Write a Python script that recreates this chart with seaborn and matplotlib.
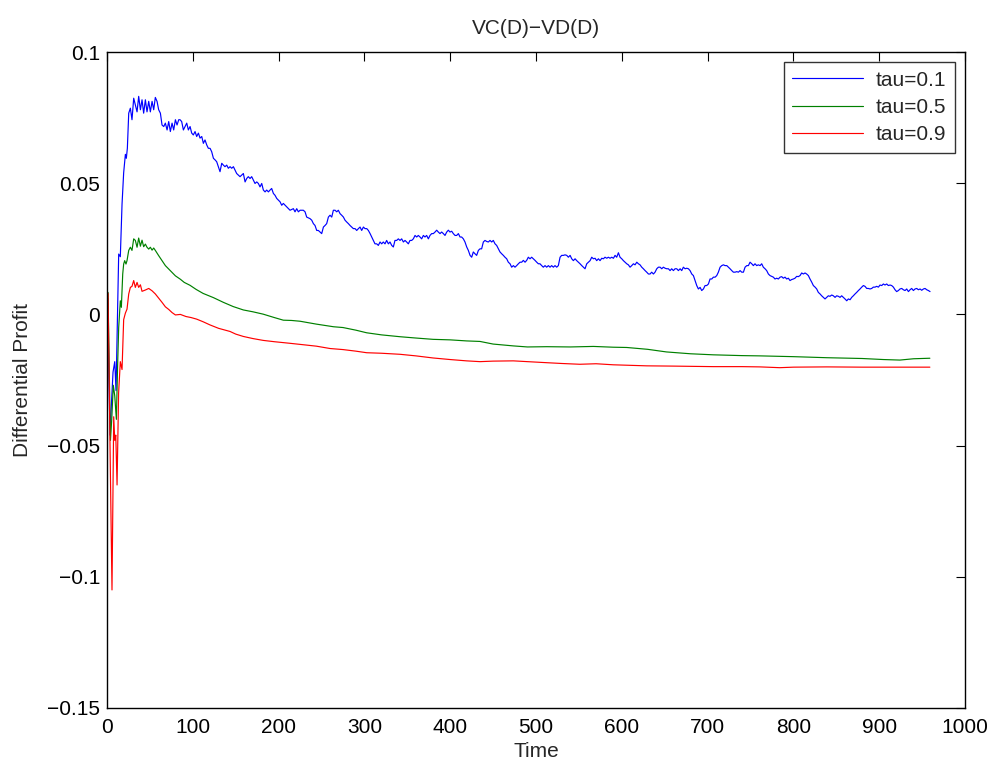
import matplotlib
matplotlib.use("Agg")
import matplotlib.pyplot as plt
import pandas as pd
import seaborn as sns

# Points: (time, differential profit)
points_01 = [
    (1, 0.006), (2, -0.020), (3.5, -0.046), (5, -0.035), (7, -0.022), (9, -0.018), (10.5, -0.029),
    (11.5, -0.012), (12.8, 0.008), (13.6, 0.023), (15.5, 0.022), (17.5, 0.042), (19.4, 0.054), (21.4, 0.061),
    (22.5, 0.0595), (23.7, 0.0633), (25.3, 0.0767), (27.2, 0.0786), (29.1, 0.0742), (31.1, 0.0824),
    (33.0, 0.0799), (35.0, 0.0772), (36.9, 0.0831), (38.9, 0.0780), (40.8, 0.0818), (42.7, 0.0767),
    (44.7, 0.0818), (46.6, 0.0772), (48.6, 0.0812), (50.5, 0.0772), (52.5, 0.0812), (54.4, 0.0780),
    (56.3, 0.0827), (58.3, 0.0812), (60.2, 0.0780), (62.2, 0.0767), (64.1, 0.0722), (66.1, 0.0716),
    (68.0, 0.0729), (70.0, 0.0703), (71.9, 0.0735), (73.8, 0.0697), (75.8, 0.0729), (77.7, 0.0703),
    (79.7, 0.0742), (81.6, 0.0722), (83.6, 0.0742),
    (85.1, 0.0742), (87.0, 0.0735), (89.0, 0.0703), (90.9, 0.0716), (92.9, 0.0729), (94.8, 0.0703),
    (96.8, 0.0716), (98.7, 0.0691), (100.6, 0.0684), (102.6, 0.0697), (104.5, 0.0678), (106.5, 0.0691),
    (108.4, 0.0672), (110.4, 0.0678), (112.3, 0.0652), (114.2, 0.0665), (116.2, 0.0646), (118.1, 0.0633),
    (120.1, 0.0633), (122.0, 0.0620), (124.0, 0.0595), (125.9, 0.0589), (127.8, 0.0582), (129.8, 0.0563),
    (131.7, 0.0544), (133.7, 0.0576), (135.6, 0.0569), (137.5, 0.0563), (139.5, 0.0569), (141.4, 0.0557),
    (143.4, 0.0563), (145.3, 0.0557), (147.3, 0.0563), (149.2, 0.0550), (151.1, 0.0537), (153.1, 0.0531),
    (155.0, 0.0525), (157.0, 0.0531), (158.9, 0.0537), (160.9, 0.0505), (162.8, 0.0518), (164.7, 0.0525),
    (166.7, 0.0518), (168.6, 0.0525), (170.6, 0.0512), (172.5, 0.0499), (174.5, 0.0505), (176.4, 0.0499),
    (178.3, 0.0486), (180.3, 0.0499), (182.2, 0.0474), (184.2, 0.0467), (186.1, 0.0474), (188.1, 0.0467),
    (190.0, 0.0474), (191.9, 0.0480), (193.9, 0.0461), (195.8, 0.0454), (197.8, 0.0442), (201.7, 0.0429),
    (203.6, 0.0416), (205.5, 0.0423), (209.4, 0.0410), (213.3, 0.0397), (217.2, 0.0403), (219.1, 0.0391),
    (221.1, 0.0403), (223.0, 0.0391), (225.0, 0.0397), (228.8, 0.0397), (230.8, 0.0391), (232.7, 0.0371),
    (236.6, 0.0365), (238.6, 0.0359), (240.5, 0.0346), (242.4, 0.0339), (244.4, 0.0320), (246.3, 0.0320),
    (248.3, 0.0314), (250.2, 0.0308), (252.2, 0.0333), (254.1, 0.0339), (256.0, 0.0346), (258.0, 0.0371),
    (259.9, 0.0378), (261.9, 0.0371), (263.8, 0.0397), (265.8, 0.0397), (267.7, 0.0391), (269.6, 0.0397),
    (271.6, 0.0384), (273.5, 0.0378), (275.5, 0.0371), (277.4, 0.0359), (279.4, 0.0352), (281.3, 0.0346),
    (283.2, 0.0339), (285.2, 0.0333), (287.1, 0.0327), (289.1, 0.0327), (291.0, 0.0320), (293.0, 0.0327),
    (294.9, 0.0333), (296.8, 0.0320), (298.8, 0.0333), (300.7, 0.0327), (302.7, 0.0327), (304.6, 0.0320),
    (306.6, 0.0308), (308.5, 0.0295), (310.4, 0.0282),
    (312.3, 0.0269), (314.3, 0.0269), (316.2, 0.0263), (318.2, 0.0276), (320.1, 0.0269), (322.0, 0.0276),
    (324.0, 0.0269), (325.9, 0.0282), (327.9, 0.0269), (329.8, 0.0276), (331.8, 0.0263), (333.7, 0.0257),
    (335.6, 0.0282), (337.6, 0.0282), (339.5, 0.0288), (341.5, 0.0282), (343.4, 0.0288), (345.4, 0.0276),
    (347.3, 0.0282), (349.2, 0.0276), (351.2, 0.0269), (353.1, 0.0282), (355.1, 0.0282), (357.0, 0.0288),
    (359.0, 0.0301), (360.9, 0.0295), (362.8, 0.0301), (364.8, 0.0295), (366.7, 0.0288), (368.7, 0.0301),
    (370.6, 0.0295), (372.5, 0.0301), (374.5, 0.0288), (376.4, 0.0301), (378.4, 0.0308), (380.3, 0.0308),
    (382.3, 0.0314), (384.2, 0.0321), (386.1, 0.0314), (388.1, 0.0308), (390.0, 0.0314), (392.0, 0.0308),
    (393.9, 0.0301), (395.9, 0.0314), (397.8, 0.0321), (399.7, 0.0314), (401.7, 0.0317), (403.6, 0.0308),
    (405.6, 0.0301), (407.5, 0.0301), (409.5, 0.0308), (411.4, 0.0295), (413.3, 0.0295), (415.3, 0.0288),
    (417.2, 0.0276), (419.2, 0.0257), (421.1, 0.0244), (423.1, 0.0225), (425.0, 0.0218), (426.9, 0.0238),
    (428.9, 0.0231), (430.8, 0.0225), (432.8, 0.0244), (434.7, 0.0250), (436.6, 0.0250), (438.6, 0.0276),
    (440.5, 0.0282), (442.5, 0.0278), (444.4, 0.0276), (446.4, 0.0282), (448.3, 0.0276), (450.2, 0.0282),
    (452.2, 0.0269), (454.1, 0.0263), (456.1, 0.0250), (458.0, 0.0238), (460.0, 0.0231), (461.9, 0.0225),
    (463.8, 0.0218), (465.8, 0.0212), (467.7, 0.0199), (469.7, 0.0193), (471.6, 0.0180), (473.6, 0.0186),
    (475.5, 0.0180), (477.4, 0.0186), (479.4, 0.0193), (481.3, 0.0199), (483.3, 0.0199), (485.2, 0.0206),
    (487.2, 0.0199), (489.1, 0.0206), (491.0, 0.0218), (493.0, 0.0212), (494.9, 0.0218), (496.9, 0.0212),
    (498.8, 0.0206), (500.8, 0.0199), (502.7, 0.0193), (504.6, 0.0193), (506.6, 0.0186), (508.5, 0.0180),
    (510.5, 0.0186), (512.4, 0.0180), (514.4, 0.0186), (516.3, 0.0180), (518.2, 0.0186), (520.2, 0.0180),
    (522.1, 0.0186), (524.1, 0.0180), (526.0, 0.0186), (528.0, 0.0218),
    (529.9, 0.0225), (531.9, 0.0225), (533.8, 0.0227), (535.8, 0.0225), (537.7, 0.0218), (539.7, 0.0225),
    (541.6, 0.0212), (543.5, 0.0205), (545.5, 0.0212), (547.4, 0.0205), (549.4, 0.0199), (551.3, 0.0193),
    (553.3, 0.0186), (555.2, 0.0180), (557.1, 0.0174), (559.1, 0.0193), (561.0, 0.0199), (563.0, 0.0205),
    (564.9, 0.0218), (566.9, 0.0212), (568.8, 0.0214), (570.7, 0.0205), (572.7, 0.0212), (574.6, 0.0205),
    (576.6, 0.0214), (578.5, 0.0212), (580.4, 0.0218), (582.4, 0.0214), (584.3, 0.0218), (586.3, 0.0214),
    (588.2, 0.0218), (590.2, 0.0214), (592.1, 0.0225), (594.0, 0.0218), (596.0, 0.0235), (597.9, 0.0218),
    (599.9, 0.0212), (601.8, 0.0205), (603.8, 0.0199), (605.7, 0.0193), (607.6, 0.0189), (609.6, 0.0180),
    (611.5, 0.0186), (613.5, 0.0193), (615.4, 0.0189), (617.4, 0.0199), (619.3, 0.0193), (621.2, 0.0189),
    (623.2, 0.0180), (625.1, 0.0174), (627.1, 0.0167), (629.0, 0.0161), (631.0, 0.0154), (632.9, 0.0154),
    (634.8, 0.0161), (636.8, 0.0154), (638.7, 0.0161), (640.7, 0.0174), (642.6, 0.0180), (644.6, 0.0180),
    (646.5, 0.0174), (648.4, 0.0180), (650.4, 0.0176), (652.3, 0.0174), (654.3, 0.0174), (656.2, 0.0167),
    (658.1, 0.0174), (660.1, 0.0167), (662.0, 0.0174), (664.0, 0.0174), (665.9, 0.0167), (667.9, 0.0174),
    (669.8, 0.0167), (671.7, 0.0180), (673.7, 0.0174), (675.6, 0.0176), (677.6, 0.0174), (679.5, 0.0167),
    (681.5, 0.0154), (683.4, 0.0148), (685.3, 0.0129), (687.3, 0.0110), (689.2, 0.0097), (691.2, 0.0103),
    (693.1, 0.0091), (695.1, 0.0097), (697.0, 0.0110), (698.9, 0.0110), (700.9, 0.0116), (702.8, 0.0135),
    (704.8, 0.0135), (706.7, 0.0142), (708.7, 0.0142), (710.6, 0.0148), (712.5, 0.0161), (714.5, 0.0180),
    (716.4, 0.0186), (718.4, 0.0189), (720.3, 0.0186), (722.3, 0.0186), (724.2, 0.0180), (726.1, 0.0174),
    (728.1, 0.0167), (730.0, 0.0161), (732.0, 0.0161), (733.9, 0.0163), (735.9, 0.0161), (737.8, 0.0167),
    (739.7, 0.0161), (741.7, 0.0161), (743.6, 0.0180), (745.6, 0.0186), (747.5, 0.0186),
    (749.4, 0.0199), (751.4, 0.0193), (753.3, 0.0186), (755.2, 0.0193), (757.2, 0.0186), (759.1, 0.0189),
    (761.1, 0.0186), (763.0, 0.0193), (764.9, 0.0180), (766.9, 0.0174), (768.8, 0.0167), (770.8, 0.0154),
    (772.7, 0.0148), (774.7, 0.0145), (776.6, 0.0142), (778.5, 0.0135), (780.5, 0.0138), (782.4, 0.0135),
    (784.4, 0.0142), (786.3, 0.0144), (788.2, 0.0138), (790.2, 0.0142), (792.1, 0.0135), (794.1, 0.0138),
    (796.0, 0.0129), (798.0, 0.0133), (799.9, 0.0135), (801.8, 0.0138), (803.8, 0.0145), (805.7, 0.0144),
    (807.7, 0.0148), (809.6, 0.0158), (811.6, 0.0154), (813.5, 0.0158), (815.4, 0.0154), (817.4, 0.0148),
    (819.3, 0.0135), (821.3, 0.0123), (823.2, 0.0110), (825.2, 0.0104), (827.1, 0.0097), (829.0, 0.0084),
    (831.0, 0.0078), (832.9, 0.0071), (834.9, 0.0065), (836.8, 0.0059), (838.8, 0.0065), (840.7, 0.0071),
    (842.6, 0.0069), (844.6, 0.0074), (846.5, 0.0071), (848.5, 0.0065), (850.4, 0.0071), (852.4, 0.0069),
    (854.3, 0.0065), (856.2, 0.0071), (858.2, 0.0065), (860.1, 0.0059), (862.1, 0.0052), (864.0, 0.0059),
    (866.0, 0.0056), (867.9, 0.0065), (869.8, 0.0071), (871.8, 0.0078), (873.7, 0.0084), (875.7, 0.0091),
    (877.6, 0.0097), (879.6, 0.0104), (881.5, 0.0110), (883.4, 0.0107), (885.4, 0.0099), (887.3, 0.0099),
    (889.3, 0.0097), (891.2, 0.0099), (893.1, 0.0104), (895.1, 0.0104), (897.0, 0.0107), (899.0, 0.0104),
    (900.9, 0.0112), (902.9, 0.0110), (904.8, 0.0116), (906.7, 0.0112), (908.7, 0.0116), (910.6, 0.0110),
    (912.6, 0.0112), (914.5, 0.0110), (916.5, 0.0104), (918.4, 0.0094), (920.3, 0.0087), (922.3, 0.0091),
    (924.2, 0.0097), (926.2, 0.0099), (928.1, 0.0094), (930.1, 0.0091), (932.0, 0.0097), (934.0, 0.0087),
    (935.9, 0.0094), (937.8, 0.0099), (939.8, 0.0091), (941.7, 0.0097), (943.7, 0.0099), (945.6, 0.0094),
    (947.6, 0.0097), (949.5, 0.0092), (951.5, 0.0097), (953.4, 0.0099), (955.3, 0.0094), (957.3, 0.0091),
    (959.2, 0.0087),
]

points_05 = [
    (1.2, 0.0084), (2.5, -0.020), (4.0, -0.048), (5.5, -0.040), (7.3, -0.027), (9.0, -0.031), (10.9, -0.040),
    (12.3, -0.020), (13.6, -0.005), (15.5, 0.0052), (16.7, 0.0027), (18.3, 0.0154), (19.4, 0.0192),
    (20.6, 0.0205), (22.1, 0.0192), (23.3, 0.0205), (25.3, 0.0244), (27.2, 0.0256), (29.1, 0.0244),
    (31.1, 0.0288), (33.0, 0.0282), (35.0, 0.0256), (36.9, 0.0291), (38.9, 0.0260), (40.8, 0.0283),
    (42.7, 0.0258), (44.7, 0.0268), (46.6, 0.0256), (48.6, 0.0249), (50.5, 0.0256), (52.5, 0.0245),
    (54.4, 0.0253), (56.3, 0.0244), (60.2, 0.0224), (64.1, 0.0205), (68.0, 0.0186), (71.9, 0.0173),
    (75.8, 0.0160), (79.7, 0.0147), (85.5, 0.0134), (90, 0.0122), (96.7, 0.0111), (104, 0.0095),
    (112, 0.0080), (124, 0.0064), (135.6, 0.0046), (147, 0.0030), (158.9, 0.0017), (170, 0.0010),
    (182, 0.0001), (195, -0.0012), (205.5, -0.0022), (215, -0.0023), (225, -0.0026), (244, -0.0037),
    (264, -0.0047), (275, -0.0050), (290, -0.0060), (302.6, -0.0070), (320, -0.0078), (341.5, -0.0085),
    (360, -0.0090), (380, -0.0095), (400, -0.0097), (419, -0.0101), (434.7, -0.0103), (450, -0.0113),
    (473.5, -0.0120), (490, -0.0124), (512.5, -0.0123), (540, -0.0124), (566.8, -0.0122), (590, -0.0125),
    (605.7, -0.0126), (630, -0.0133), (652, -0.0143), (680, -0.0150), (706.7, -0.0154), (740, -0.0157),
    (761, -0.0158), (800, -0.0161), (839, -0.0165), (880, -0.0168), (905, -0.0172), (924, -0.0174),
    (940, -0.0169), (959, -0.0167),
]

points_09 = [
    (1.2, 0.008), (3.5, -0.050), (5.8, -0.105), (7.8, -0.039), (9.0, -0.048), (10.2, -0.046), (11.7, -0.065),
    (13.5, -0.030), (15.5, -0.018), (17.5, -0.021), (19.4, -0.002), (21.4, 0.0005), (23.3, 0.002),
    (25.3, 0.0078), (27.2, 0.0103), (29.1, 0.0107), (31.1, 0.0129), (33.0, 0.0103), (35.0, 0.0122),
    (36.9, 0.0103), (38.9, 0.0113), (40.8, 0.0088), (44.7, 0.0093), (48.6, 0.0099), (52.5, 0.0090),
    (56.3, 0.0078), (60.2, 0.0062), (64.1, 0.0046), (68.0, 0.0029), (71.9, 0.0019), (75.8, 0.0007),
    (79.7, -0.0002), (85.5, 0.0000), (92, -0.0008), (98, -0.0012), (104.5, -0.0018), (112, -0.0028),
    (120, -0.0040), (130, -0.0053), (143.4, -0.0065), (150, -0.0075), (158.9, -0.0084), (170, -0.0092),
    (182, -0.0099), (195, -0.0104), (213, -0.0110), (230, -0.0116), (244, -0.0121), (260, -0.0130),
    (275, -0.0134), (290, -0.0140), (302.6, -0.0146), (320, -0.0148), (341.5, -0.0152), (360, -0.0158),
    (380, -0.0166), (400, -0.0172), (419, -0.0177), (434.7, -0.0180), (450, -0.0178), (473.5, -0.0177),
    (490, -0.0180), (512.5, -0.0184), (530, -0.0187), (551, -0.0190), (570, -0.0188), (590, -0.0192),
    (629, -0.0196), (660, -0.0197), (706.7, -0.0199), (740, -0.0199), (761, -0.0200), (784, -0.0203),
    (800, -0.0201), (839, -0.0200), (880, -0.0201), (924, -0.0201), (959, -0.0201),
]

series_labels = ['tau=0.1', 'tau=0.5', 'tau=0.9']
series_colors = ['#0000ff', '#008000', '#ff0000']

# Long format table for seaborn
frames = []
for pts, lab in zip([points_01, points_05, points_09], series_labels):
    part = pd.DataFrame(pts, columns=['Time', 'Profit'])
    part['tau'] = lab
    frames.append(part)
df = pd.concat(frames, ignore_index=True)

sns.set_style('white')
plt.rcParams['font.family'] = ['Liberation Sans', 'DejaVu Sans']
plt.rcParams['axes.unicode_minus'] = True

fs = 15
fig = plt.figure(figsize=(9.9, 7.64), dpi=100)
ax = fig.add_axes([0.1081, 0.0733, 0.8667, 0.8586])

sns.lineplot(data=df, x='Time', y='Profit', hue='tau', hue_order=series_labels,
             palette=dict(zip(series_labels, series_colors)), estimator=None, sort=False,
             linewidth=0.85, ax=ax)

ax.set_xlim(0, 1000)
ax.set_ylim(-0.15, 0.1)
ax.set_xticks(range(0, 1001, 100))
ax.set_yticks([-0.15, -0.1, -0.05, 0, 0.05, 0.1])
ax.set_yticklabels(['\u22120.15', '\u22120.1', '\u22120.05', '0', '0.05', '0.1'])
ax.tick_params(direction='in', length=6.5, width=0.8, top=True, right=True,
               labelsize=fs, colors='black', pad=5)
ax.tick_params(axis='x', pad=7)
for sp in ax.spines.values():
    sp.set_visible(True)
    sp.set_color('black')
    sp.set_linewidth(1.0)

ax.set_title('VC(D)\u2212VD(D)', fontsize=fs, pad=13)
ax.set_xlabel('Time', fontsize=fs, labelpad=4)
ax.set_ylabel('Differential Profit', fontsize=fs, labelpad=11)

handles, labels = ax.get_legend_handles_labels()
leg = ax.legend(handles, labels, loc='upper right', fontsize=fs, frameon=True, fancybox=False,
                edgecolor='black', handlelength=3.4, borderpad=0.4, labelspacing=0.4,
                handletextpad=0.6, borderaxespad=0.5)
leg.get_frame().set_linewidth(1.0)

fig.savefig('out.png', dpi=100, facecolor='white')
